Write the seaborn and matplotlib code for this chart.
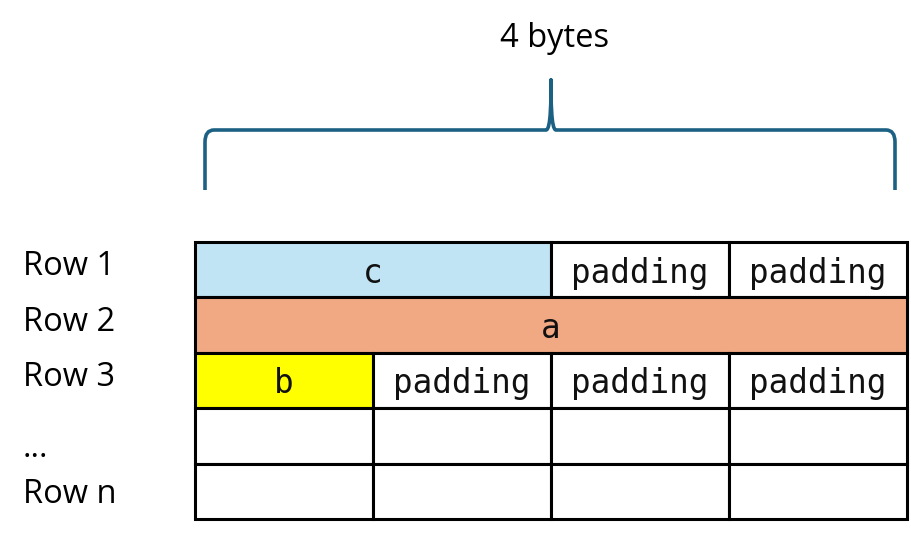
"""
Struct memory layout diagram: rows of 4 bytes with padding.
"""

import matplotlib.pyplot as plt
from matplotlib.path import Path
from matplotlib.patches import PathPatch
import seaborn as sns

# ---- data ---------------------------------------------------------------
ROW_LABELS = ["Row 1", "Row 2", "Row 3", "...", "Row n"]
ROW_BYTES = 4

# one list per row: field name, start byte, size in bytes
ROW1_CELLS = [("c", 0, 2), ("padding", 2, 1), ("padding", 3, 1)]
ROW2_CELLS = [("a", 0, 4)]
ROW3_CELLS = [("b", 0, 1), ("padding", 1, 1), ("padding", 2, 1), ("padding", 3, 1)]
ROW4_CELLS = [("", 0, 1), ("", 1, 1), ("", 2, 1), ("", 3, 1)]
ROW5_CELLS = [("", 0, 1), ("", 1, 1), ("", 2, 1), ("", 3, 1)]
ROWS = [ROW1_CELLS, ROW2_CELLS, ROW3_CELLS, ROW4_CELLS, ROW5_CELLS]

FIELD_COLORS = {"c": "#C1E4F5", "a": "#F1A983", "b": "#FFFF00"}
BRACE_COLOR = "#1C6184"

sns.set_theme(style="white")
plt.rcParams["font.family"] = ["Open Sans", "DejaVu Sans"]

W, H = 911, 543
fig = plt.figure(figsize=(W / 100, H / 100), dpi=100)
ax = fig.add_axes([0, 0, 1, 1])
ax.set_axis_off()

# pixel geometry of the grid
px_left, px_right = 195, 907
px_top, px_bottom = 242, 519
byte_px = (px_right - px_left) / ROW_BYTES
row_px = (px_bottom - px_top) / len(ROWS)
ax.set_xlim(-px_left / byte_px, (W - px_left) / byte_px)
ax.set_ylim((H - px_top) / row_px, -px_top / row_px)


def px_x(p):
    return (p - px_left) / byte_px


def px_y(p):
    return (p - px_top) / row_px


# ---- cells --------------------------------------------------------------
for i, cells in enumerate(ROWS):
    names = [c[0] for c in cells]
    starts = [c[1] for c in cells]
    sizes = [c[2] for c in cells]
    colors = [FIELD_COLORS.get(n, "white") for n in names]
    ax.barh(
        [i + 0.5] * len(cells), sizes, left=starts, height=1.0,
        color=colors, edgecolor="black", linewidth=2.2, zorder=2,
    )
    for n, s, w in zip(names, starts, sizes):
        if n:
            ax.text(s + w / 2, i + 0.56, n, ha="center", va="center",
                    fontsize=23.5, family=["DejaVu Sans Mono"], color="#111111",
                    zorder=3)

# row labels
for i, lab in enumerate(ROW_LABELS):
    dy = 0.22 if lab == "..." else (0.05 if i == len(ROW_LABELS) - 1 else -0.05)
    ax.text(px_x(23), i + 0.5 + dy, lab, ha="left", va="center",
            fontsize=23.5, color="black")

# ---- brace over the row width -------------------------------------------
xa, xb = px_x(205), px_x(895)
xm = ROW_BYTES / 2 + px_x(551) - 2.0
y_end, y_bar, y_tip = px_y(190), px_y(130), px_y(80)
rx, ry = 9 / byte_px, 12 / row_px
cx, cy = 5 / byte_px, 32 / row_px

verts = [
    (xa, y_end), (xa, y_bar + ry), (xa, y_bar), (xa + rx, y_bar),
    (xm - cx, y_bar),
    (xm, y_bar), (xm, y_bar - cy), (xm, y_tip),
    (xm, y_bar - cy), (xm, y_bar), (xm + cx, y_bar),
    (xb - rx, y_bar),
    (xb, y_bar), (xb, y_bar + ry), (xb, y_end),
]
codes = [
    Path.MOVETO, Path.LINETO, Path.CURVE3, Path.CURVE3,
    Path.LINETO,
    Path.CURVE4, Path.CURVE4, Path.CURVE4,
    Path.CURVE4, Path.CURVE4, Path.CURVE4,
    Path.LINETO,
    Path.CURVE3, Path.CURVE3, Path.LINETO,
]
ax.add_patch(PathPatch(Path(verts, codes), fill=False, edgecolor=BRACE_COLOR,
                       linewidth=2.6, capstyle="butt", joinstyle="round"))

ax.text(px_x(555), px_y(38), f"{ROW_BYTES} bytes", ha="center", va="center",
        fontsize=23.5, color="black")

fig.savefig("out.png", dpi=100)
plt.close(fig)
print("saved out.png")
